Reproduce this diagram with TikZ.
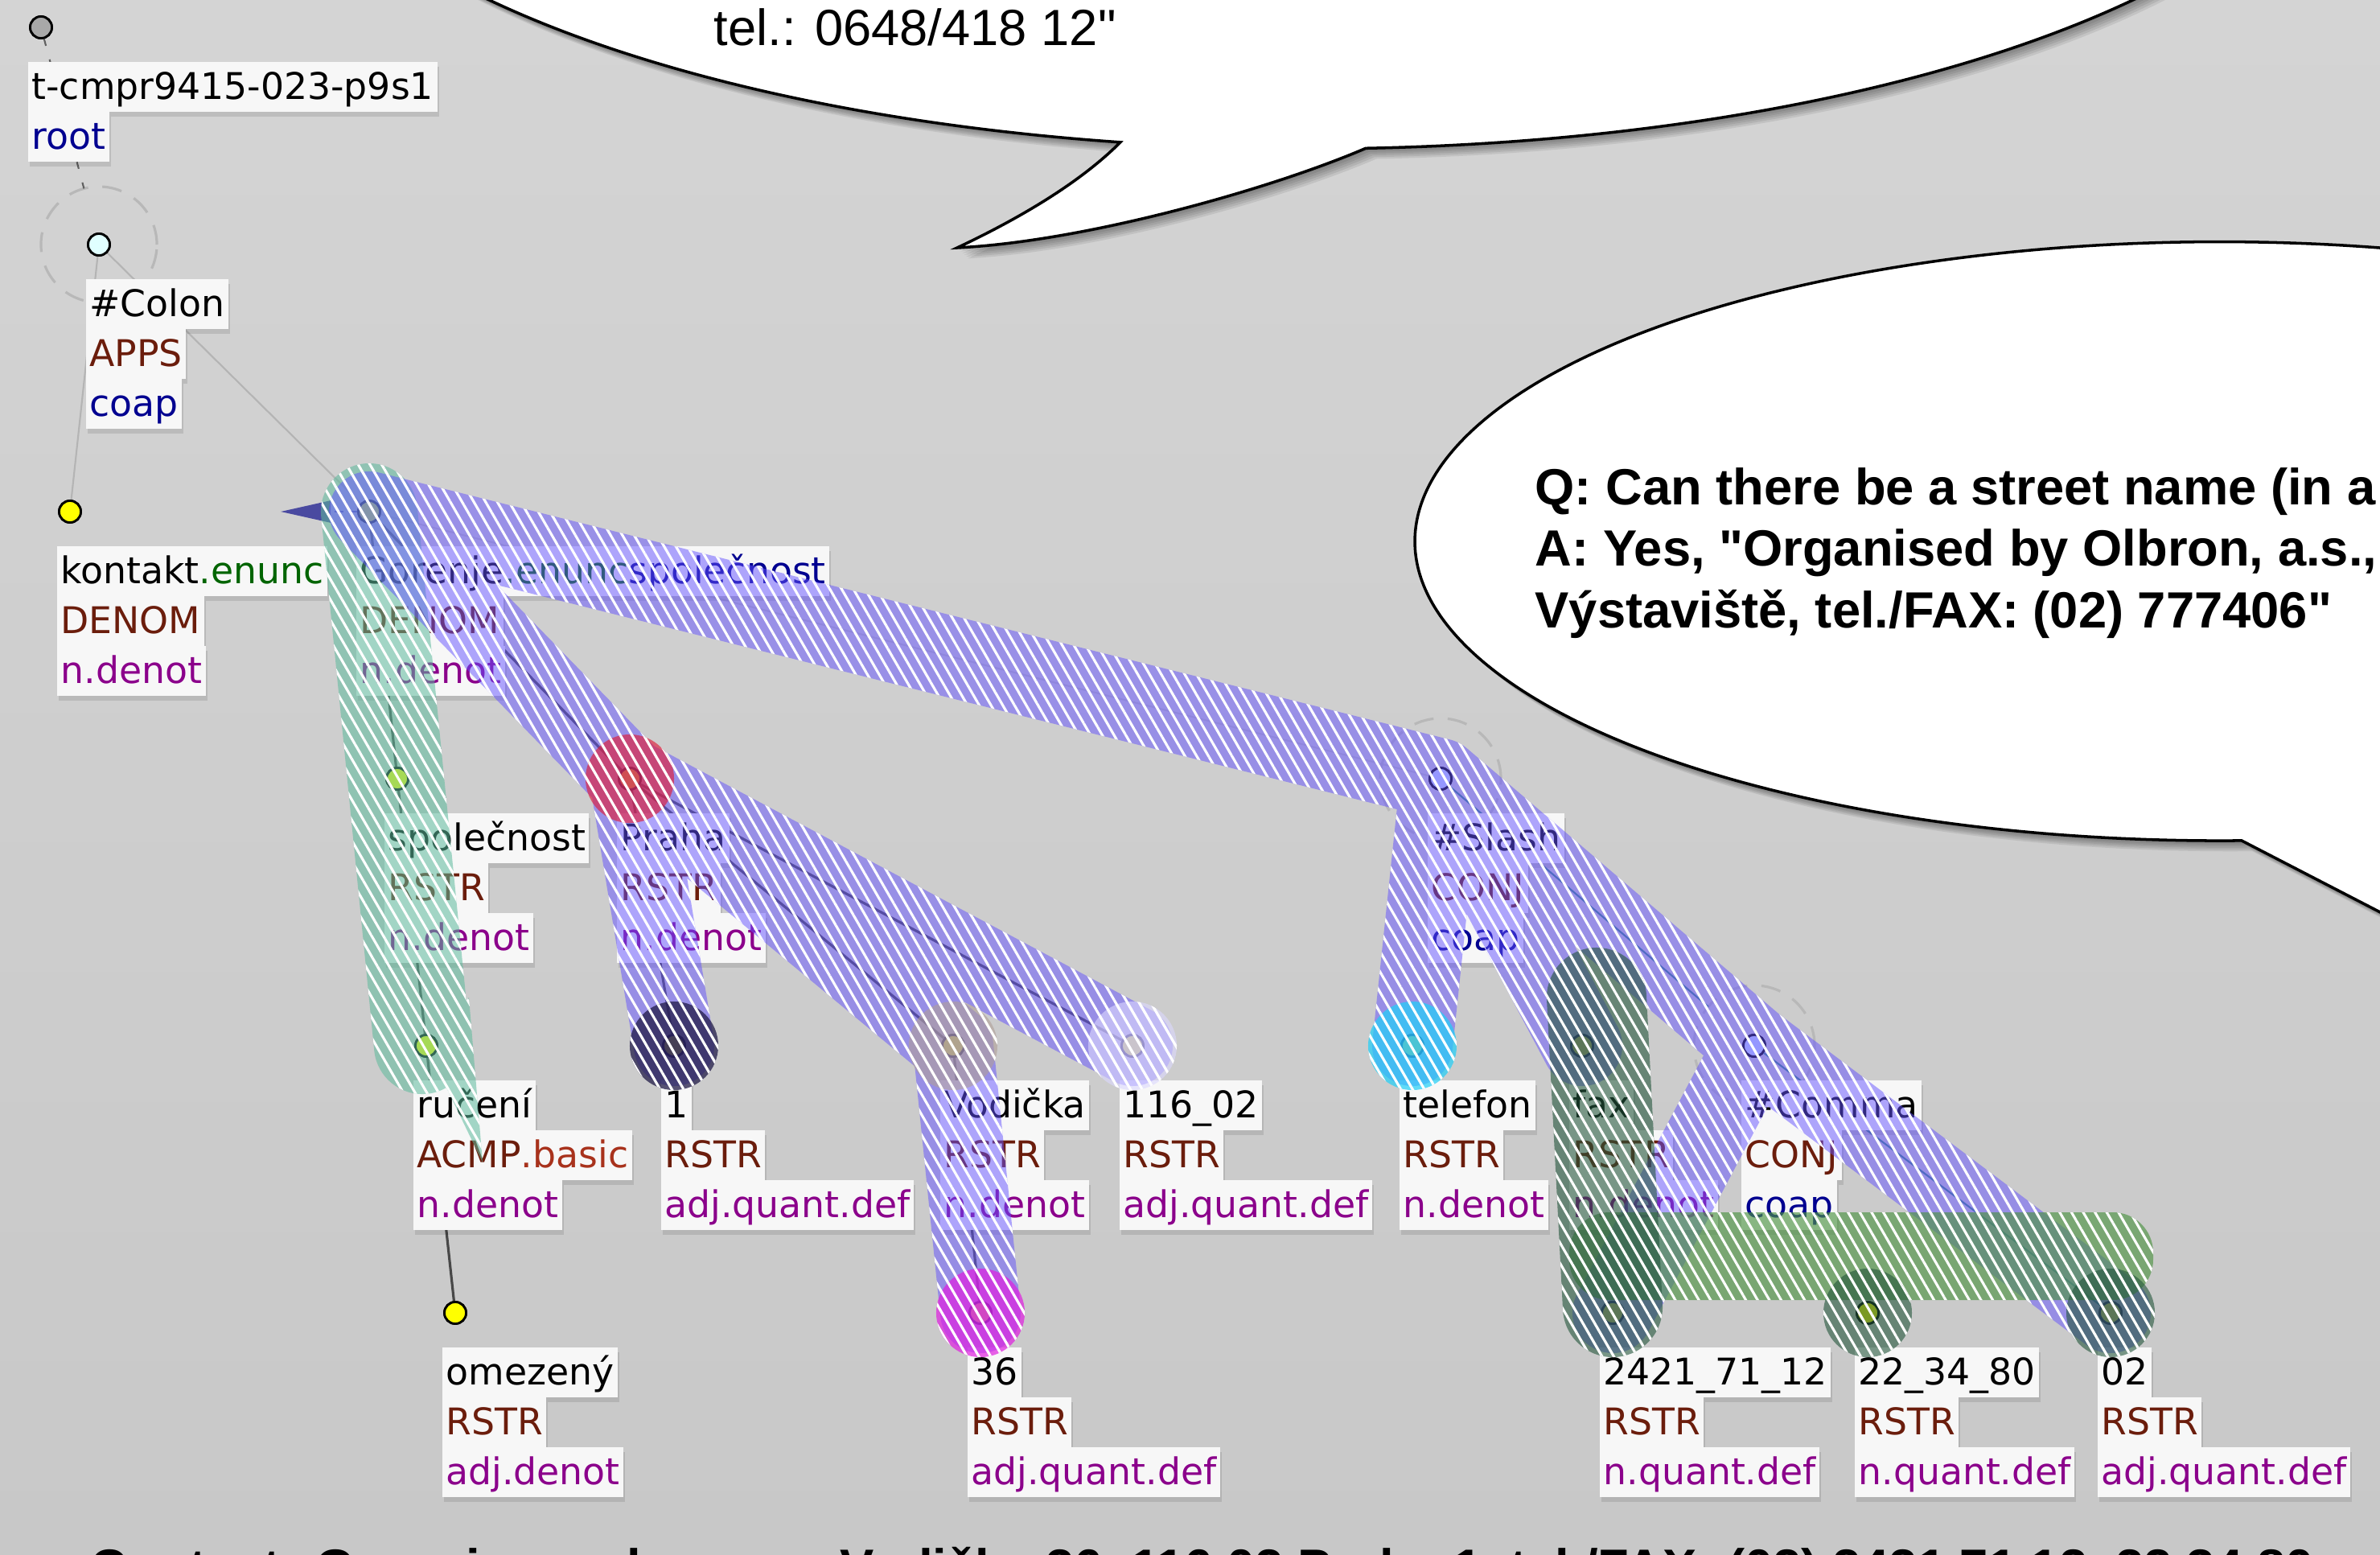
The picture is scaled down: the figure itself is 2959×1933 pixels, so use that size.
\documentclass[tikz,border=0pt]{standalone}
\usepackage{fontspec}
\setmainfont{DejaVu Sans}
\newfontfamily\bubfont{Liberation Sans}
\usetikzlibrary{calc,arrows.meta,patterns.meta,shadows}
\definecolor{bgtop}{HTML}{D4D4D4}
\definecolor{bgbot}{HTML}{C8C8C8}
\definecolor{labbg}{HTML}{F7F7F7}
\definecolor{fun}{HTML}{6B1D0C}
\definecolor{basic}{HTML}{A8321C}
\definecolor{coap}{HTML}{000090}
\definecolor{sem}{HTML}{8B008B}
\definecolor{enunc}{HTML}{006400}
\definecolor{edgedark}{HTML}{484848}
\definecolor{edgelight}{HTML}{B4B4B4}
\definecolor{edgeteal}{HTML}{3A8585}
\definecolor{dashgray}{HTML}{B8B8B8}
\definecolor{rootdashc}{HTML}{606060}
\definecolor{bandpurple}{HTML}{6452FF}
\definecolor{bandteal}{HTML}{5DBA9C}
\definecolor{cred}{HTML}{E0203C}
\definecolor{cdark}{HTML}{221C48}
\definecolor{ctaupe}{HTML}{B0A098}
\definecolor{clav}{HTML}{DCD8FF}
\definecolor{cmag}{HTML}{E020E0}
\definecolor{ccyan}{HTML}{20D0F8}
\definecolor{cgreen}{HTML}{4E9444}
\definecolor{cdgreen}{HTML}{24563C}
\definecolor{nyellow}{HTML}{FFFF00}
\definecolor{ncyan}{HTML}{E0FFFF}
\definecolor{nblue}{HTML}{C8DDFF}
\definecolor{ngray}{HTML}{A8A8A8}
\definecolor{arrowblue}{HTML}{4A4AA0}

\newcommand\lbl[4]{%
  \node[lab,anchor=north west] (#1-a) at ([shift={(-0.16cm,-0.43cm)}]#1.center) {#2};
  \node[lab,anchor=north west] (#1-b) at (#1-a.south west) {#3};
  \node[lab,anchor=north west] (#1-c) at (#1-b.south west) {#4};}
\newcommand\hatch[3]{\path[fill=#1,fill opacity=#2] #3; \path[stripes] #3;}

\begin{document}
\begin{tikzpicture}[x=0.01cm,y=-0.01cm,
  dot/.style={circle,draw=black,line width=0.8pt,minimum size=0.27cm,inner sep=0pt},
  lab/.style={fill=labbg,inner xsep=0.045cm,inner ysep=0.04cm,text height=0.42cm,text depth=0.12cm,outer sep=0pt,
    font=\fontsize{13}{15}\selectfont,
    drop shadow={shadow xshift=0.02cm,shadow yshift=-0.06cm,opacity=0.10,fill=black}},
  edark/.style={draw=edgedark,line width=0.9pt},
  elight/.style={draw=edgelight,line width=0.6pt},
  eteal/.style={draw=edgeteal,line width=0.6pt},
  dcirc/.style={draw=dashgray,line width=0.9pt,dash pattern=on 7pt off 5pt},
  rootdash/.style={draw=rootdashc,line width=0.6pt,dash pattern=on 2.5pt off 5pt},
  arrowc/.style={draw=arrowblue,line width=0.7pt,dash pattern=on 3pt off 2pt,
    -{Triangle[length=0.62cm,width=0.27cm,fill=arrowblue]}},
  seg/.style n args={3}{insert path={($(#1)!#3!-90:(#2)$) -- ($(#2)!#3!90:(#1)$) -- ($(#2)!#3!-90:(#1)$) -- ($(#1)!#3!90:(#2)$) -- cycle (#1) circle[radius=#3] (#2) circle[radius=#3]}},
  stripes/.style={pattern={Lines[angle=-60,distance=3.6pt,line width=0.9pt]},pattern color=white,fill opacity=0.45},
  bubble/.style={fill=white,draw=black,line width=1pt},
  topbubble/.style={insert path={(1698,184.3) arc[start angle=273,end angle=619.5,x radius=13cm,y radius=4.85cm]
     .. controls (1340,230) and (1260,275) .. (1190,308) .. controls (1350,300) and (1580,235) .. (1698,184.3) -- cycle}},
  rightbubble/.style={insert path={(3150,1015.6) arc[start angle=292.95,end angle=631.55,x radius=10cm,y radius=3.72cm] -- (3300,1310) -- cycle}},
  bubtext/.style={anchor=base west,inner sep=0pt,font=\bubfont\fontsize{18}{22}\selectfont},
  bubbold/.style={bubtext,font=\bubfont\bfseries\fontsize{18}{22}\selectfont},
]
\useasboundingbox (0,0) rectangle (2959,1933);
\shade[top color=bgtop,bottom color=bgbot] (0,0) rectangle (2959,1933);

% bottom sentence (mostly cut off)
\node[bubbold] (sentence) at (112,1970)
  {Contact: Gorenje, spol. s r. o., Vodička 36, 116 02 Praha 1, tel./FAX: (02) 2421 71 12, 22 34 80};

% nodes
\node[dot,fill=ngray]   (root)  at (51,34) {};
\node[dot,fill=ncyan]   (colon) at (123,304) {};
\node[dot,fill=nyellow] (kon)   at (87,636) {};
\node[dot,fill=nyellow] (gor)   at (459,636) {};
\node[dot,fill=nyellow] (spo)   at (494,968) {};
\node[dot,fill=nyellow] (pra)   at (783,968) {};
\node[dot,fill=nyellow] (ruc)   at (530,1300) {};
\node[dot,fill=nyellow] (one)   at (838,1300) {};
\node[dot,fill=nyellow] (vod)   at (1185,1300) {};
\node[dot,fill=nyellow] (six)   at (1408,1300) {};
\node[dot,fill=nyellow] (ome)   at (566,1632) {};
\node[dot,fill=nyellow] (tsix)  at (1219,1632) {};
\node[dot,fill=nblue]   (sla)   at (1791,968) {};
\node[dot,fill=nyellow] (tel)   at (1756,1300) {};
\node[dot,fill=nyellow] (fax)   at (1967,1300) {};
\node[dot,fill=nblue]   (com)   at (2181,1300) {};
\node[dot,fill=nyellow] (na)    at (2005,1632) {};
\node[dot,fill=nyellow] (nb)    at (2322,1632) {};
\node[dot,fill=nyellow] (nc)    at (2624,1632) {};

% dashed circles
\draw[dcirc] (colon) circle[radius=0.72cm];
\draw[dcirc] (sla) circle[radius=0.75cm];
\draw[dcirc] (com) circle[radius=0.75cm];

% edges
\coordinate (coltop) at ($(colon)!0.72cm!(root)$);
\draw[rootdash] (root) -- (coltop);
\draw[elight] (colon) -- (kon);
\draw[elight] (colon) -- (gor);
\draw[elight,draw opacity=0.7] (gor) -- (sla);
\draw[edark] (gor) -- (spo);
\draw[edark] (gor) -- (pra);
\draw[edark] (spo) -- (ruc);
\draw[edark] (ruc) -- (ome);
\draw[edark] (pra) -- (one);
\draw[edark] (pra) -- (vod);
\draw[edark] (pra) -- (six);
\draw[edark] (vod) -- (tsix);
\coordinate (comtop) at ($(com)!0.75cm!(sla)$);
\draw[eteal] (sla) -- (comtop);
\draw[eteal] (com) -- (nc);
\coordinate (arrtip) at (349,636);
\draw[arrowc] (gor) -- (arrtip);

% node dots above edges
\foreach \n/\c in {root/ngray,colon/ncyan,kon/nyellow,gor/nyellow,spo/nyellow,pra/nyellow,ruc/nyellow,one/nyellow,vod/nyellow,six/nyellow,ome/nyellow,tsix/nyellow,sla/nblue,tel/nyellow,fax/nyellow,com/nblue,na/nyellow,nb/nyellow,nc/nyellow}
  \path[draw=black,line width=0.8pt,fill=\c] (\n) circle[radius=0.135cm];

% labels
\node[lab,anchor=north west] (root-a) at ([shift={(-0.16cm,-0.43cm)}]root.center) {t-cmpr9415-023-p9s1};
\node[lab,anchor=north west] (root-b) at (root-a.south west) {\textcolor{coap}{root}};
\lbl{colon}{\#Colon}{\textcolor{fun}{APPS}}{\textcolor{coap}{coap}}
\lbl{kon}{kontakt\textcolor{enunc}{.enunc}}{\textcolor{fun}{DENOM}}{\textcolor{sem}{n.denot}}
\lbl{gor}{Gorenje\textcolor{enunc}{.enunc}\textcolor{coap}{společnost}}{\textcolor{fun}{DENOM}}{\textcolor{sem}{n.denot}}
\lbl{spo}{společnost}{\textcolor{fun}{RSTR}}{\textcolor{sem}{n.denot}}
\lbl{pra}{Praha}{\textcolor{fun}{RSTR}}{\textcolor{sem}{n.denot}}
\lbl{ruc}{ručení}{\textcolor{fun}{ACMP}\textcolor{basic}{.basic}}{\textcolor{sem}{n.denot}}
\lbl{one}{1}{\textcolor{fun}{RSTR}}{\textcolor{sem}{adj.quant.def}}
\lbl{vod}{Vodička}{\textcolor{fun}{RSTR}}{\textcolor{sem}{n.denot}}
\lbl{six}{116\_02}{\textcolor{fun}{RSTR}}{\textcolor{sem}{adj.quant.def}}
\lbl{ome}{omezený}{\textcolor{fun}{RSTR}}{\textcolor{sem}{adj.denot}}
\lbl{tsix}{36}{\textcolor{fun}{RSTR}}{\textcolor{sem}{adj.quant.def}}
\lbl{sla}{\#Slash}{\textcolor{fun}{CONJ}}{\textcolor{coap}{coap}}
\lbl{tel}{telefon}{\textcolor{fun}{RSTR}}{\textcolor{sem}{n.denot}}
\lbl{fax}{fax}{\textcolor{fun}{RSTR}}{\textcolor{sem}{n.denot}}
\lbl{com}{\#Comma}{\textcolor{fun}{CONJ}}{\textcolor{coap}{coap}}
\lbl{na}{2421\_71\_12}{\textcolor{fun}{RSTR}}{\textcolor{sem}{n.quant.def}}
\lbl{nb}{22\_34\_80}{\textcolor{fun}{RSTR}}{\textcolor{sem}{n.quant.def}}
\lbl{nc}{02}{\textcolor{fun}{RSTR}}{\textcolor{sem}{adj.quant.def}}

% highlight bands
\coordinate (gtb) at (525,1300);
\coordinate (wtip) at (600,1445);
\coordinate (wmid) at (583,1240);
\hatch{bandteal}{0.55}{[seg={gor}{gtb}{6mm}] (ruc.center) -- (wtip) -- (wmid) -- cycle}
\hatch{bandpurple}{0.5}{[seg={gor}{sla}{5mm}] [seg={gor}{pra}{5mm}] [seg={pra}{one}{5mm}] [seg={pra}{vod}{5mm}] [seg={pra}{six}{5mm}] [seg={vod}{tsix}{5mm}] [seg={sla}{tel}{5mm}] [seg={sla}{fax}{5mm}] [seg={sla}{com}{5mm}] [seg={com}{nc}{5mm}] [seg={com}{na}{5mm}]}
\hatch{cred}{0.65}{(pra) circle[radius=5.5mm]}
\hatch{cdark}{0.75}{(one) circle[radius=5.5mm]}
\hatch{ctaupe}{0.6}{(vod) circle[radius=5.5mm]}
\hatch{clav}{0.6}{(six) circle[radius=5.5mm]}
\hatch{cmag}{0.7}{(tsix) circle[radius=5.5mm]}
\hatch{ccyan}{0.7}{(tel) circle[radius=5.5mm]}
\hatch{cgreen}{0.65}{[rounded corners=0.5cm] (1951,1507) rectangle (2677,1616)}
\coordinate (fxt) at (1985,1240);
\coordinate (fxb) at (2005,1625);
\hatch{cdgreen}{0.6}{[seg={fxt}{fxb}{6.2mm}] (nb) circle[radius=5.5mm] (nc) circle[radius=5.5mm]}

% speech bubbles
\foreach \k in {1,...,6}
  \fill[black,opacity=0.08,xshift=\k*0.022cm,yshift=-\k*0.022cm] [topbubble];
\path[bubble] [topbubble];
\foreach \k in {1,...,6}
  \fill[black,opacity=0.08,xshift=\k*0.022cm,yshift=-\k*0.022cm] [rightbubble];
\path[bubble] [rightbubble];

\node[bubtext] (toptext) at (887,57) {tel.: 0648/418 12"};
\node[bubbold] (q1) at (1908,627) {Q: Can there be a street name (in a};
\node[bubbold] (q2) at (1908,703) {A: Yes, "Organised by Olbron, a.s.,};
\node[bubbold] (q3) at (1908,780) {Výstaviště, tel./FAX: (02) 777406"};
\end{tikzpicture}
\end{document}
